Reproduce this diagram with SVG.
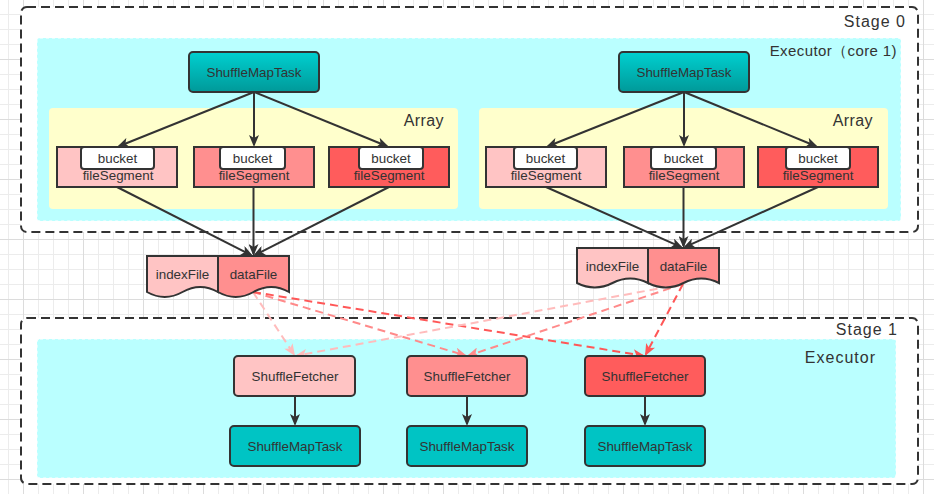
<svg xmlns="http://www.w3.org/2000/svg" width="934" height="494" viewBox="0 0 934 494">
<style>
text{font-family:"Liberation Sans",Arial,sans-serif;fill:#333;}
.t{font-size:13.4px;text-anchor:middle;}
.lbl{font-size:16px;text-anchor:end;letter-spacing:1px;}
.stage{fill:#fff;stroke:#333;stroke-width:2;stroke-dasharray:9 5;}
.exec{fill:#baffff;stroke:#ffffff;stroke-width:1;stroke-dasharray:3 3;}
.arr{fill:#ffffcc;}
.box{stroke:#333;stroke-width:2;}
.c1{fill:#ffc4c4;}
.c2{fill:#ff8f8f;}
.c3{fill:#ff5c5c;}
.task{fill:url(#tg);}
.task2{fill:#00c4c4;}
.bk{fill:#fff;}
.e{fill:none;stroke:#333;stroke-width:2;marker-end:url(#mk);}
.d{fill:none;stroke-width:2;stroke-dasharray:8 5;}
.d1{stroke:#ffbcbc;marker-end:url(#m1);}
.d2{stroke:#ff8a8a;marker-end:url(#m2);}
.d3{stroke:#ff5757;marker-end:url(#m3);}
</style>
<defs>
<pattern id="grid" patternUnits="userSpaceOnUse" x="8" y="14" width="60" height="60">
<path d="M0.5,0V60M30.5,0V60M45.5,0V60M0,0.5H60M0,15.5H60M0,30.5H60" stroke="#ececec" stroke-width="1" fill="none"/>
<path d="M15.5,0V60M0,45.5H60" stroke="#dcdcdc" stroke-width="1" fill="none"/>
</pattern>
<linearGradient id="tg" x1="0" y1="0" x2="0" y2="1">
<stop offset="0" stop-color="#00d0d0"/>
<stop offset="1" stop-color="#009999"/>
</linearGradient>
<marker id="mk" markerUnits="userSpaceOnUse" viewBox="0 0 12 10" markerWidth="12" markerHeight="10" refX="10" refY="5" orient="auto">
<path d="M0,0L12,5L0,10L3,5Z" fill="#333"/>
</marker>
<marker id="m1" markerUnits="userSpaceOnUse" viewBox="0 0 12 10" markerWidth="12" markerHeight="10" refX="10" refY="5" orient="auto">
<path d="M0,0L12,5L0,10L3,5Z" fill="#ffbcbc"/>
</marker>
<marker id="m2" markerUnits="userSpaceOnUse" viewBox="0 0 12 10" markerWidth="12" markerHeight="10" refX="10" refY="5" orient="auto">
<path d="M0,0L12,5L0,10L3,5Z" fill="#ff8a8a"/>
</marker>
<marker id="m3" markerUnits="userSpaceOnUse" viewBox="0 0 12 10" markerWidth="12" markerHeight="10" refX="10" refY="5" orient="auto">
<path d="M0,0L12,5L0,10L3,5Z" fill="#ff5757"/>
</marker>
</defs>

<rect width="934" height="494" fill="#fff"/>
<rect width="934" height="494" fill="url(#grid)"/>

<g id="stage0">
<rect class="stage" x="21" y="7" width="897" height="225" rx="6"/>
<text class="lbl" x="906" y="27">Stage 0</text>
</g>
<g id="executor0">
<rect class="exec" x="37" y="38" width="864" height="183" rx="3"/>
<text class="lbl" x="897" y="56" style="font-size:15px;letter-spacing:0.4px">Executor（core 1)</text>
</g>
<g id="array-left">
<rect class="arr" x="49" y="108" width="409" height="101" rx="4"/>
<text class="lbl" x="444" y="126" style="letter-spacing:0.4px">Array</text>
</g>
<g id="array-right">
<rect class="arr" x="479" y="108" width="409" height="101" rx="4"/>
<text class="lbl" x="873" y="126" style="letter-spacing:0.4px">Array</text>
</g>

<g id="stage1">
<rect class="stage" x="21" y="318" width="897" height="166" rx="6"/>
<text class="lbl" x="898" y="335">Stage 1</text>
</g>
<g id="executor1">
<rect class="exec" x="37" y="339" width="859" height="139" rx="3"/>
<text class="lbl" x="876" y="363">Executor</text>
</g>

<g id="task-left">
<rect class="box task" x="189" y="52" width="130" height="40" rx="4"/>
<text class="t" x="254" y="77">ShuffleMapTask</text>
</g>
<g id="task-right">
<rect class="box task" x="619" y="52" width="130" height="40" rx="4"/>
<text class="t" x="684" y="77">ShuffleMapTask</text>
</g>

<g id="seg-l1">
<rect class="box c1" x="57" y="147" width="120" height="40"/>
<rect class="box bk" x="81" y="147" width="73" height="22" rx="3"/>
<text class="t" x="117.5" y="162.5">bucket</text>
<text class="t" x="118" y="179.5">fileSegment</text>
</g>
<g id="seg-l2">
<rect class="box c2" x="194" y="147" width="120" height="40"/>
<rect class="box bk" x="220" y="147" width="65" height="22" rx="3"/>
<text class="t" x="252.5" y="162.5">bucket</text>
<text class="t" x="254" y="179.5">fileSegment</text>
</g>
<g id="seg-l3">
<rect class="box c3" x="329" y="147" width="120" height="40"/>
<rect class="box bk" x="359" y="147" width="64" height="22" rx="3"/>
<text class="t" x="391" y="162.5">bucket</text>
<text class="t" x="389" y="179.5">fileSegment</text>
</g>
<g id="seg-r1">
<rect class="box c1" x="486" y="147" width="120" height="40"/>
<rect class="box bk" x="514" y="147" width="63" height="22" rx="3"/>
<text class="t" x="545.5" y="162.5">bucket</text>
<text class="t" x="546" y="179.5">fileSegment</text>
</g>
<g id="seg-r2">
<rect class="box c2" x="624" y="147" width="120" height="40"/>
<rect class="box bk" x="651" y="147" width="65" height="22" rx="3"/>
<text class="t" x="683.5" y="162.5">bucket</text>
<text class="t" x="684" y="179.5">fileSegment</text>
</g>
<g id="seg-r3">
<rect class="box c3" x="758" y="147" width="120" height="40"/>
<rect class="box bk" x="786" y="147" width="64" height="22" rx="3"/>
<text class="t" x="818" y="162.5">bucket</text>
<text class="t" x="818" y="179.5">fileSegment</text>
</g>

<g id="connectors">
<path class="e" d="M254,92L118.9,146.3"/>
<path class="e" d="M254,92L254,145"/>
<path class="e" d="M254,92L387.1,146.2"/>
<path class="e" d="M684,92L547.9,146.3"/>
<path class="e" d="M684,92L684,145"/>
<path class="e" d="M684,92L816.1,146.2"/>
<path class="e" d="M117,187L251.2,255.1"/>
<path class="e" d="M253.5,187L253.5,254"/>
<path class="e" d="M389,187L254.8,255.1"/>
<path class="e" d="M546,187L681.2,247.2"/>
<path class="e" d="M683.5,187L683.5,246"/>
<path class="e" d="M818,187L684.8,247.2"/>
<path class="e" d="M295,396L295,424"/>
<path class="e" d="M467,396L467,424"/>
<path class="e" d="M645,396L645,424"/>
<path class="d d1" d="M253,292L293.9,354.3"/>
<path class="d d2" d="M253,292L465.1,355.4"/>
<path class="d d3" d="M253,292L643,355.7"/>
<path class="d d1" d="M683,284L297,355.6"/>
<path class="d d2" d="M683,284L468.9,355.4"/>
<path class="d d3" d="M683,284L645.9,354.2"/>
</g>

<g id="doc-left">
<path class="box c1" d="M147,256H218V292Q200.25,282 182.5,292Q164.75,302 147,292Z"/>
<path class="box c2" d="M218,256H289V292Q271.25,282 253.5,292Q235.75,302 218,292Z"/>
<text class="t" x="182.5" y="279">indexFile</text>
<text class="t" x="253.5" y="279">dataFile</text>
</g>
<g id="doc-right">
<path class="box c1" d="M577,248H648V283Q630.25,274 612.5,283Q594.75,292 577,283Z"/>
<path class="box c2" d="M648,248H719V283Q701.25,274 683.5,283Q665.75,292 648,283Z"/>
<text class="t" x="612.5" y="271">indexFile</text>
<text class="t" x="683.5" y="271">dataFile</text>
</g>

<g id="fetcher-1">
<rect class="box c1" x="234" y="356" width="121" height="40" rx="4"/>
<text class="t" x="295" y="381">ShuffleFetcher</text>
</g>
<g id="fetcher-2">
<rect class="box c2" x="407" y="356" width="120" height="40" rx="4"/>
<text class="t" x="467" y="381">ShuffleFetcher</text>
</g>
<g id="fetcher-3">
<rect class="box c3" x="585" y="356" width="120" height="40" rx="4"/>
<text class="t" x="645" y="381">ShuffleFetcher</text>
</g>
<g id="maptask-1">
<rect class="box task2" x="230" y="426" width="130" height="40" rx="4"/>
<text class="t" x="295" y="451">ShuffleMapTask</text>
</g>
<g id="maptask-2">
<rect class="box task2" x="407" y="426" width="120" height="40" rx="4"/>
<text class="t" x="467" y="451">ShuffleMapTask</text>
</g>
<g id="maptask-3">
<rect class="box task2" x="585" y="426" width="120" height="40" rx="4"/>
<text class="t" x="645" y="451">ShuffleMapTask</text>
</g>
</svg>
